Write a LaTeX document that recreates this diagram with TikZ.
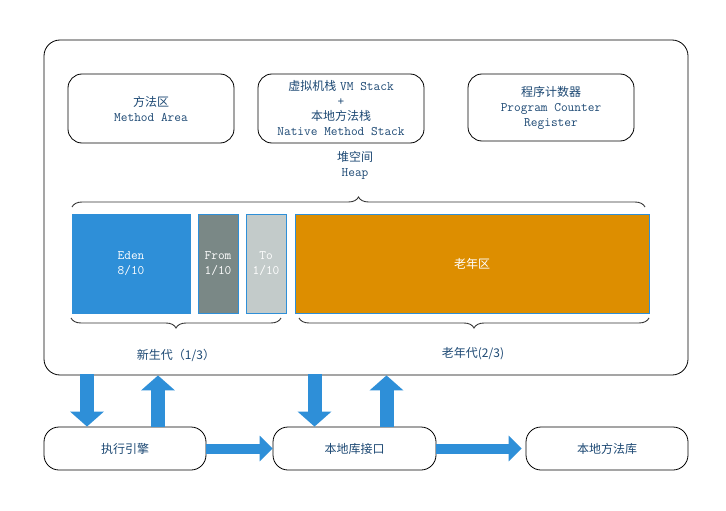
\documentclass[tikz,border=0pt]{standalone}
\usepackage{fontspec}
\newfontfamily\zh{Noto Sans CJK SC}
\usetikzlibrary{arrows.meta,decorations.pathreplacing}
\definecolor{txtblue}{RGB}{28,72,115}
\definecolor{edenblue}{RGB}{46,143,216}
\definecolor{fromgray}{RGB}{122,136,134}
\definecolor{togray}{RGB}{195,203,202}
\definecolor{oldorange}{RGB}{221,142,0}
\newcommand{\en}[1]{{\ttfamily\fontsize{13}{15}\selectfont #1}}
\tikzset{
 box/.style={draw, line width=0.8pt, rounded corners=14pt, inner sep=2pt, text=txtblue, align=center, font=\fontsize{12}{15}\selectfont},
 gen/.style={draw=edenblue, line width=0.8pt, inner sep=1pt, text=white, align=center, minimum height=99pt, font=\fontsize{12}{15}\selectfont},
 lbl/.style={text=txtblue, align=center, font=\fontsize{12}{15}\selectfont},
 bigarrow/.style={draw=edenblue, line width=14pt, -{Triangle[width=33pt,length=15pt]}},
 sidearrow/.style={draw=edenblue, line width=10pt, -{Triangle[width=25pt,length=13pt]}},
 curly/.style={draw=black!80, line width=0.9pt, decorate, decoration={brace, amplitude=10pt}}
}
\begin{document}
\begin{tikzpicture}[x=1pt,y=-1pt]
\useasboundingbox (0,0) rectangle (726,511);
% JVM frame
\node[draw, line width=0.8pt, rounded corners=16pt, minimum width=644pt, minimum height=335pt] (jvm) at (366,207.5) {};
\node[box, minimum width=166pt, minimum height=69pt] (method) at (151,108.5) {{\zh 方法区}\\\en{Method Area}};
\node[box, minimum width=166pt, minimum height=69pt] (stack) at (341,108.5) {{\zh 虚拟机栈} \en{VM Stack}\\\en{+}\\{\zh 本地方法栈}\\\en{Native Method Stack}};
\node[box, minimum width=166pt, minimum height=67pt] (pc) at (551,107.5) {{\zh 程序计数器}\\\en{Program Counter}\\\en{Register}};
\node[lbl] (heap) at (355,165.5) {{\zh 堆空间}\\\en{Heap}};
% heap generations
\node[gen, fill=edenblue, minimum width=118pt] (eden) at (131,263.5) {\en{Eden}\\\en{8/10}};
\node[gen, fill=fromgray, minimum width=40pt] (from) at (218,263.5) {\en{From}\\\en{1/10}};
\node[gen, fill=togray, minimum width=40pt] (to) at (266,263.5) {\en{To}\\\en{1/10}};
\node[gen, fill=oldorange, minimum width=354pt] (old) at (472,263.5) {\zh 老年区};
\coordinate (b1) at (72,207);
\coordinate (b2) at (645,207);
\draw[curly] (b1) -- (b2);
\coordinate (b3) at (71,318);
\coordinate (b4) at (281,318);
\draw[curly] (b4) -- (b3);
\coordinate (b5) at (299,318);
\coordinate (b6) at (649,318);
\draw[curly] (b6) -- (b5);
\node[lbl] (young) at (176,355) {\zh 新生代（1/3）};
\node[lbl] (tenured) at (473,354) {\zh 老年代(2/3)};
% outside
\node[box, rounded corners=15pt, minimum width=162pt, minimum height=43pt] (exec) at (125,448.5) {\zh 执行引擎};
\node[box, rounded corners=15pt, minimum width=163pt, minimum height=43pt] (nif) at (354.5,448.5) {\zh 本地库接口};
\node[box, rounded corners=15pt, minimum width=162pt, minimum height=43pt] (nlib) at (607,448.5) {\zh 本地方法库};
\coordinate (d1) at ([xshift=-38pt]exec.north);
\coordinate (u1) at ([xshift=33pt]exec.north);
\coordinate (d2) at ([xshift=-40pt]nif.north);
\coordinate (u2) at ([xshift=32pt]nif.north);
\draw[bigarrow] ([yshift=1pt]d1 |- jvm.south) -- (d1);
\draw[bigarrow] (u1) -- (u1 |- jvm.south);
\draw[bigarrow] ([yshift=1pt]d2 |- jvm.south) -- (d2);
\draw[bigarrow] (u2) -- (u2 |- jvm.south);
\draw[sidearrow] (exec.east) -- (nif.west);
\draw[sidearrow] (nif.east) -- ([xshift=-4pt]nlib.west);
\end{tikzpicture}
\end{document}
